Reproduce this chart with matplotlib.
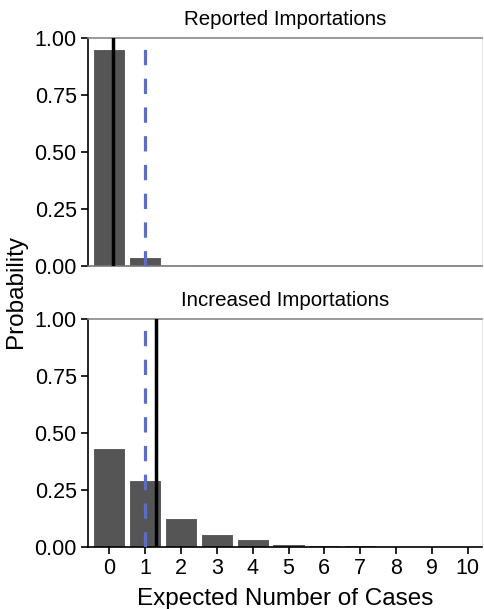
import numpy as np
import matplotlib
matplotlib.use("Agg")
import matplotlib.pyplot as plt

plt.rcParams['font.family'] = ['Liberation Sans', 'DejaVu Sans']

# expected number of cases 0..10
cases = list(range(11))
reported_prob = [0.95, 0.04, 0.004, 0.0, 0.0, 0.0, 0.0, 0.0, 0.0, 0.0, 0.0]
increased_prob = [0.434, 0.292, 0.125, 0.056, 0.031, 0.013, 0.006, 0.005, 0.002, 0.001, 0.001]

# vertical reference lines: (mean, observed)
reported_mean = 0.09
increased_mean = 1.3
observed = 1.0

panels = [("Reported Importations", reported_prob, reported_mean),
          ("Increased Importations", increased_prob, increased_mean)]

fig = plt.figure(figsize=(4.85, 6.09), dpi=100)
boxes = [[0.181, 0.563, 0.813, 0.375], [0.181, 0.1026, 0.813, 0.3734]]

for i, (title, probs, mean) in enumerate(panels):
    ax = fig.add_axes(boxes[i])
    ax.bar(cases, probs, width=0.9, color='#555555', edgecolor='white', linewidth=0.8, zorder=2)
    ax.axvline(mean, color='black', lw=2.5, zorder=3)
    ax.axvline(observed, color='#5d6dc4', lw=2.3, ls=(0, (4.8, 4.2)), zorder=4)
    ax.set_xlim(-0.6, 10.4)
    ax.set_ylim(0, 1)
    ax.set_yticks([0, 0.25, 0.5, 0.75, 1.0])
    ax.set_yticklabels(['0.00', '0.25', '0.50', '0.75', '1.00'])
    ax.set_title(title, fontsize=14.8, pad=9.5)
    ax.spines['left'].set_color('black')
    ax.spines['left'].set_linewidth(1.2)
    ax.spines['top'].set_color('#888888')
    ax.spines['top'].set_linewidth(1.2)
    ax.spines['right'].set_color('#e6e6e6')
    ax.tick_params(axis='y', labelsize=15.5, length=5, width=1.2, pad=3)
    if i == 0:
        ax.spines['bottom'].set_color('#777777')
        ax.spines['bottom'].set_linewidth(1.2)
        ax.set_xticks([])
    else:
        ax.spines['bottom'].set_color('black')
        ax.spines['bottom'].set_linewidth(1.2)
        ax.set_xticks(cases)
        ax.tick_params(axis='x', labelsize=15.5, length=5, width=1.2, pad=3)
        ax.set_xlabel('Expected Number of Cases', fontsize=17.5, labelpad=7)

fig.text(0.032, 0.522, 'Probability', rotation=90, fontsize=17.5, ha='center', va='center')

fig.savefig('out.png', dpi=100)
